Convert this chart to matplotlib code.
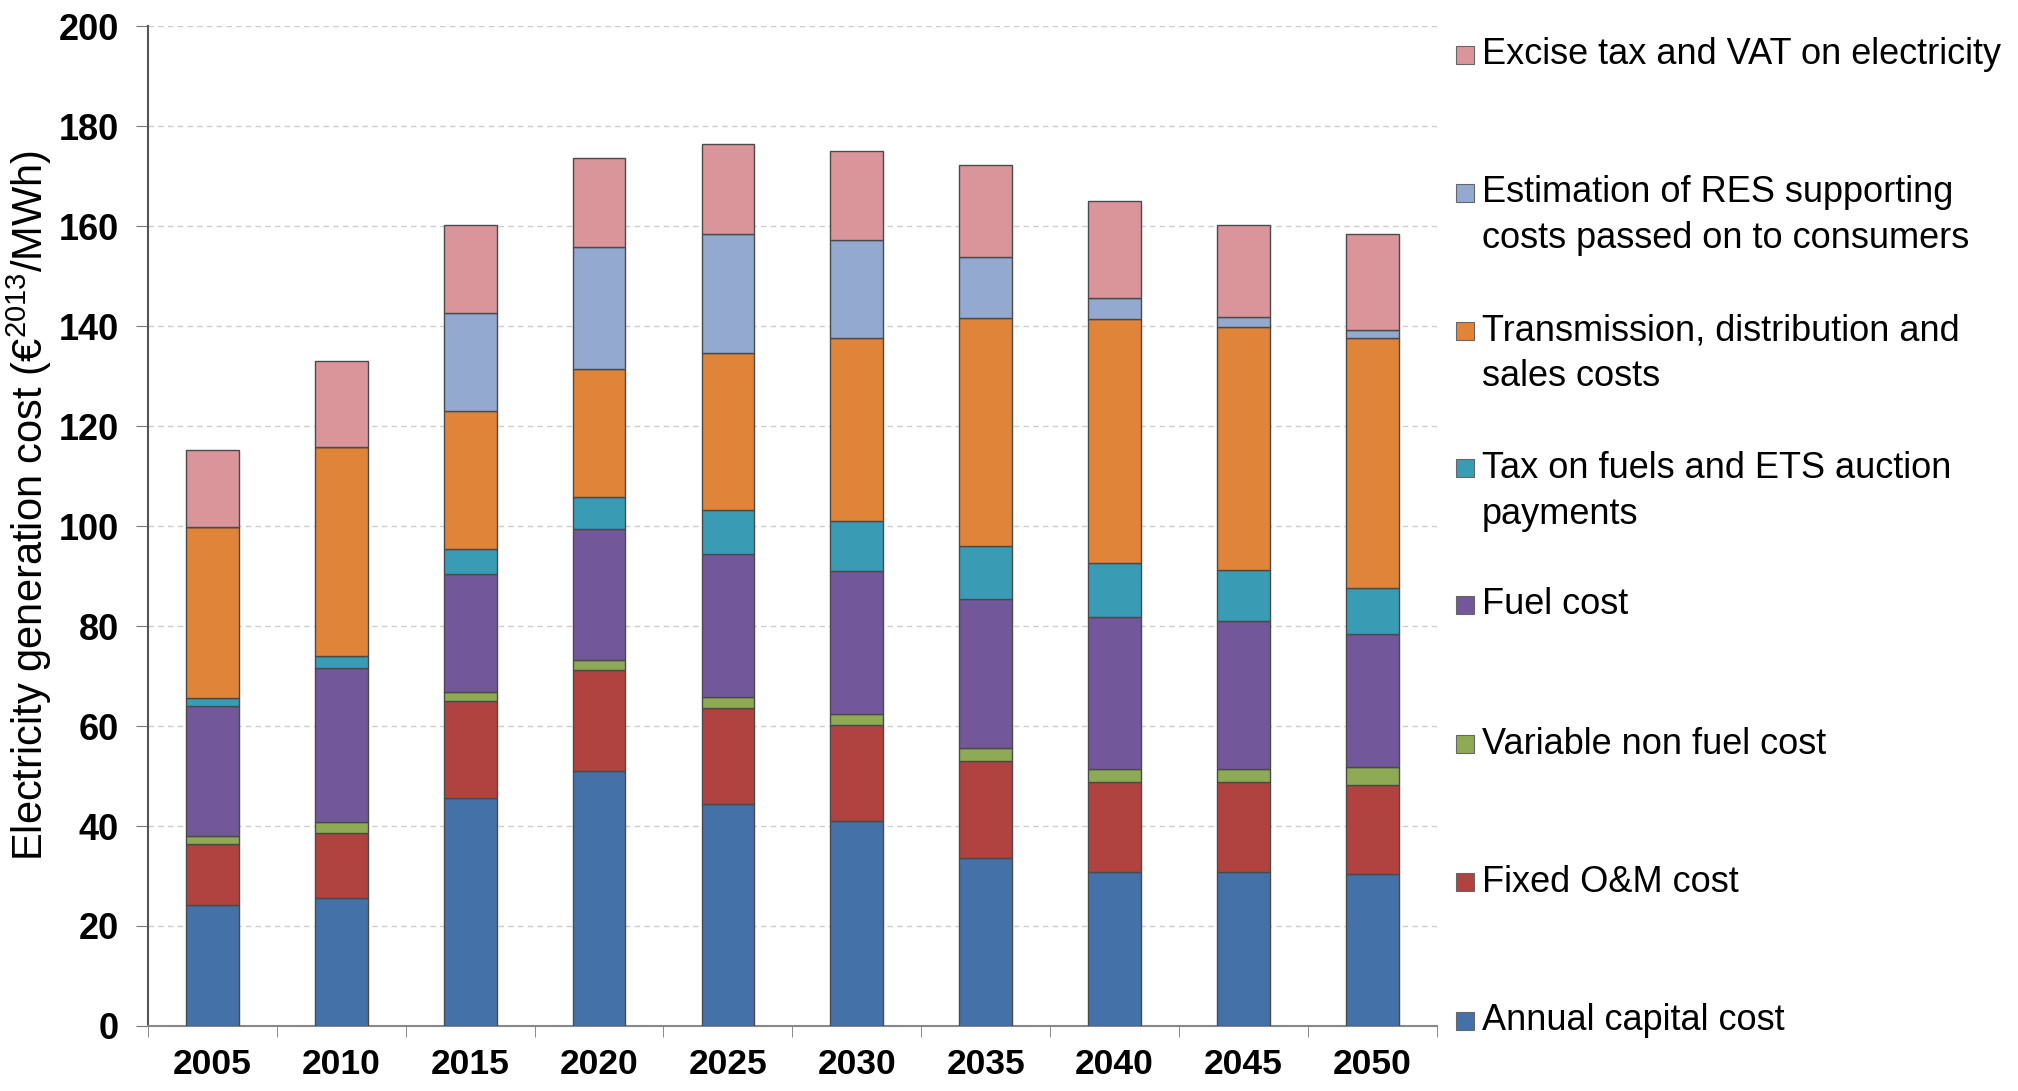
import matplotlib
matplotlib.use("Agg")
import matplotlib.pyplot as plt
import numpy as np
from matplotlib.patches import Rectangle

plt.rcParams['font.family'] = ['Liberation Sans', 'DejaVu Sans']
plt.rcParams['mathtext.fontset'] = 'custom'
plt.rcParams['mathtext.rm'] = 'Liberation Sans'

years = ['2005', '2010', '2015', '2020', '2025', '2030', '2035', '2040', '2045', '2050']

# stacked components, bottom to top
capital = [24.3, 25.6, 45.6, 51.1, 44.5, 41.1, 33.7, 30.9, 30.9, 30.4]
fixed_om = [12.1, 13.0, 19.5, 20.1, 19.2, 19.1, 19.3, 17.9, 17.9, 17.8]
var_nonfuel = [1.7, 2.2, 1.7, 2.0, 2.2, 2.2, 2.7, 2.7, 2.7, 3.7]
fuel = [25.9, 30.9, 23.7, 26.2, 28.5, 28.7, 29.8, 30.4, 29.6, 26.5]
tax_fuels = [1.7, 2.3, 5.0, 6.4, 8.8, 9.9, 10.5, 10.8, 10.2, 9.3]
transmission = [34.2, 41.9, 27.6, 25.7, 31.5, 36.7, 45.6, 48.8, 48.5, 49.9]
res_support = [0.0, 0.0, 19.5, 24.3, 23.7, 19.6, 12.2, 4.2, 2.0, 1.7]
excise_vat = [15.4, 17.1, 17.7, 17.8, 18.1, 17.7, 18.4, 19.3, 18.5, 19.1]

series = [capital, fixed_om, var_nonfuel, fuel, tax_fuels, transmission, res_support, excise_vat]
labels = ['Annual capital cost', 'Fixed O&M cost', 'Variable non fuel cost', 'Fuel cost',
          'Tax on fuels and ETS auction\npayments', 'Transmission, distribution and\nsales costs',
          'Estimation of RES supporting\ncosts passed on to consumers',
          'Excise tax and VAT on electricity']
colors = ['#4472A8', '#B0433F', '#8FAA55', '#72589A', '#3A9BB5', '#E0843A', '#93A9D0', '#D9959A']

fig = plt.figure(figsize=(20.18, 10.91), dpi=100)
ax = fig.add_axes([0.0733, 0.0596, 0.6387, 0.9164])

x = np.arange(len(years))
bottom = np.zeros(len(years))
for vals, col in zip(series, colors):
    vals = np.array(vals)
    ax.bar(x, vals, 0.41, bottom=bottom, color=col, edgecolor='#4a4a4a', linewidth=1.0, zorder=3)
    bottom += vals

ax.set_xlim(-0.5, 9.5)
ax.set_ylim(0, 200)
ax.set_yticks(np.arange(0, 201, 20))
ax.yaxis.grid(True, linestyle=(0, (4, 3)), color='#cccccc', linewidth=1.0)
ax.set_axisbelow(True)

ax.set_xticks(x)
ax.set_xticklabels(years, fontsize=25.5, fontweight='bold')
ax.set_xticks(np.arange(-0.5, 10, 1), minor=True)
ax.tick_params(axis='x', which='major', length=0, pad=16)
ax.tick_params(axis='x', which='minor', length=8, direction='out', color='#777777')
ax.tick_params(axis='y', length=9, direction='out', color='#777777', pad=12, labelsize=26)
for t in ax.get_yticklabels():
    t.set_fontweight('bold')

for s in ['top', 'right']:
    ax.spines[s].set_visible(False)
ax.spines['left'].set_color('#555555')
ax.spines['left'].set_linewidth(1.5)
ax.spines['bottom'].set_color('#888888')
ax.spines['bottom'].set_linewidth(1.5)

W, H = 2018.0, 1091.0
fig.text(29 / W, 1 - 505 / H, r'Electricity generation cost (€$^{2013}$/MWh)',
         rotation=90, ha='center', va='center', fontsize=30)

# legend drawn by hand, top entry first
leg_y = [55, 193, 331, 468, 605, 744, 882, 1021]
line_step = 46
for i, yy in enumerate(leg_y):
    k = len(series) - 1 - i
    fig.patches.append(Rectangle((1456 / W, 1 - (yy + 9) / H), 18 / W, 18 / H,
                                 transform=fig.transFigure, facecolor=colors[k],
                                 edgecolor='#666666', linewidth=0.8))
    for j, line in enumerate(labels[k].split('\n')):
        fig.text(1482 / W, 1 - (yy + j * line_step) / H, line, ha='left', va='center', fontsize=26)

fig.savefig('out.png', dpi=100)
